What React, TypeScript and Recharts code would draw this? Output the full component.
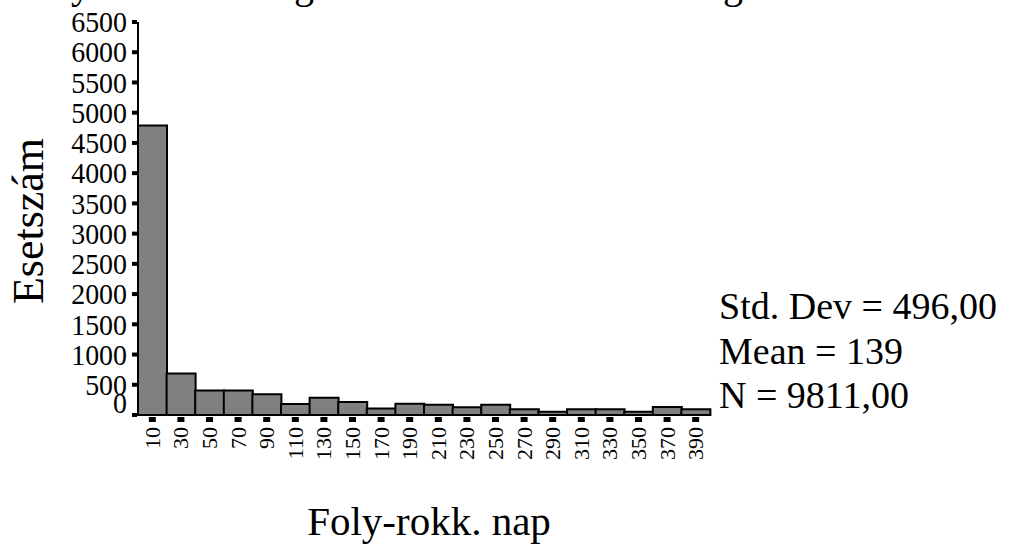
// Histogram of Foly-rokk. nap (days) with SPSS-style summary statistics.

import { BarChart, Bar, XAxis, YAxis } from 'recharts';

const BINS = ['10', '30', '50', '70', '90', '110', '130', '150', '170', '190', '210', '230', '250', '270', '290', '310', '330', '350', '370', '390'];
const COUNTS = [4790, 685, 405, 405, 345, 180, 285, 215, 108, 185, 168, 128, 168, 95, 55, 95, 95, 55, 132, 95];
const Y_TICKS = [0, 500, 1000, 1500, 2000, 2500, 3000, 3500, 4000, 4500, 5000, 5500, 6000, 6500];
const STATS = ['Std. Dev = 496,00', 'Mean = 139', 'N = 9811,00'];

const FONT = '"Liberation Serif", "Times New Roman", serif';

const data = BINS.map((bin, i) => ({ bin, count: COUNTS[i] }));

function YTick(props: any) {
  const { x, y, payload } = props;
  // SPSS nudges the "0" label up so it clears the baseline
  const shift = payload.value === 0 ? -12 : 0;
  return (
    <g>
      <rect x={x - 6} y={y - 2} width={5} height={4} fill="#000" />
      <text
        transform={`translate(${x - 11},${y + shift}) scale(0.93,1)`}
        dy="0.34em"
        textAnchor="end"
        fontSize={30}
        fontFamily={FONT}
        fill="#000"
      >
        {payload.value}
      </text>
    </g>
  );
}

function XTick(props: any) {
  const { x, y, payload } = props;
  return (
    <g>
      <rect x={x - 3.5} y={y + 2} width={7} height={5} fill="#000" />
      <text
        transform={`translate(${x},${y + 12}) rotate(-90)`}
        textAnchor="end"
        dominantBaseline="central"
        fontSize={22}
        fontFamily={FONT}
        fill="#000"
      >
        {payload.value}
      </text>
    </g>
  );
}

export default function App() {
  return (
    <div style={{ position: 'absolute', left: 0, top: 0, width: 1013, height: 547, background: '#fff' }}>
      <BarChart
        width={1013}
        height={547}
        data={data}
        margin={{ top: 22, right: 303, bottom: 72, left: 0 }}
        barCategoryGap={0}
      >
        <XAxis
          dataKey="bin"
          interval={0}
          height={60}
          tickSize={0}
          tickMargin={0}
          tickLine={false}
          axisLine={{ stroke: '#000', strokeWidth: 2 }}
          tick={<XTick />}
        />
        <XAxis xAxisId="top" dataKey="bin" orientation="top" height={0} tick={false} tickLine={false} axisLine={{ stroke: '#000', strokeWidth: 2 }} />
        <YAxis
          domain={[0, 6500]}
          ticks={Y_TICKS}
          interval={0}
          width={138}
          tickSize={0}
          tickMargin={0}
          tickLine={false}
          axisLine={{ stroke: '#000', strokeWidth: 2 }}
          tick={<YTick />}
        />
        <YAxis yAxisId="right" orientation="right" width={0} domain={[0, 6500]} tick={false} tickLine={false} axisLine={{ stroke: '#000', strokeWidth: 2 }} />
        <Bar dataKey="count" fill="#808080" stroke="#000" strokeWidth={2} isAnimationActive={false} />
      </BarChart>

      <svg width={1013} height={547} style={{ position: 'absolute', left: 0, top: 0, pointerEvents: 'none' }}>
        {/* title is cut off by the crop; only its descenders show */}
        <text x={81} y={-2} textAnchor="middle" fontSize={40} fontFamily={FONT}>y</text>
        <text x={304} y={-2} textAnchor="middle" fontSize={40} fontFamily={FONT}>g</text>
        <text x={733} y={-2} textAnchor="middle" fontSize={40} fontFamily={FONT}>g</text>

        <text transform="translate(43,221) rotate(-90)" textAnchor="middle" fontSize={44} fontFamily={FONT}>
          Esetszám
        </text>
        <text x={429} y={535} textAnchor="middle" fontSize={41} fontFamily={FONT}>
          Foly-rokk. nap
        </text>
        {STATS.map((s, i) => (
          <text key={s} x={719} y={319 + i * 44.5} fontSize={38} fontFamily={FONT}>
            {s}
          </text>
        ))}
      </svg>
    </div>
  );
}
